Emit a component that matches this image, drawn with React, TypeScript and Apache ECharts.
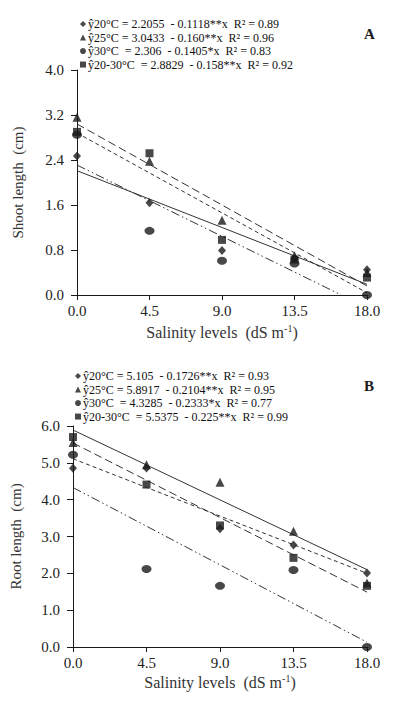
import React, { useEffect, useRef } from "react";
import * as echarts from "echarts";

// salinity levels (dS m-1)
const salinity = [0, 4.5, 9, 13.5, 18];

// A: shoot length (cm)
const shoot20 = [2.47, 1.64, 0.79, 0.65, 0.45];
const shoot25 = [3.16, 2.38, 1.33, 0.7, 0.4];
const shoot30 = [2.85, 1.14, 0.61, 0.56, 0];
const shoot2030 = [2.9, 2.52, 0.98, 0.63, 0.31];

// A: fitted lines, end points
const shootFit20 = [[0, 2.21], [18, 0.19]];
const shootFit25 = [[0, 3.04], [18, 0.16]];
const shootFit30 = [[0, 2.31], [16.4, 0]];
const shootFit2030 = [[0, 2.88], [18, 0.04]];

// B: root length (cm)
const root20 = [4.85, 4.86, 3.21, 2.77, 2.01];
const root25 = [5.55, 4.95, 4.47, 3.14, 1.74];
const root30 = [5.22, 2.12, 1.66, 2.09, 0];
const root2030 = [5.7, 4.41, 3.3, 2.42, 1.66];

// B: fitted lines, end points
const rootFit20 = [[0, 5.11], [18, 2.0]];
const rootFit25 = [[0, 5.89], [18, 2.1]];
const rootFit30 = [[0, 4.33], [18, 0.13]];
const rootFit2030 = [[0, 5.54], [18, 1.49]];

const shootEq = [
  "ŷ20°C = 2.2055  - 0.1118**x  R² = 0.89",
  "ŷ25°C = 3.0433  - 0.160**x  R² = 0.96",
  "ŷ30°C  = 2.306  - 0.1405*x  R² = 0.83",
  "ŷ20-30°C  = 2.8829  - 0.158**x  R² = 0.92",
];
const rootEq = [
  "ŷ20°C = 5.105  - 0.1726**x  R² = 0.93",
  "ŷ25°C = 5.8917  - 0.2104**x  R² = 0.95",
  "ŷ30°C  = 4.3285  - 0.2333*x  R² = 0.77",
  "ŷ20-30°C  = 5.5375  - 0.225**x  R² = 0.99",
];

const serif = "'Liberation Serif', 'Times New Roman', serif";
const ink = "#1a1a1a";
const LONG = [8, 4];
const SHORT = [4, 3];
const DASHDOT = [9, 3, 1.5, 3, 1.5, 3];

const pts = (ys: number[]) => salinity.map((x, i) => [x, ys[i]]);

const App = () => {
  const chartRef = useRef<HTMLDivElement>(null);

  useEffect(() => {
    if (!chartRef.current) return;
    document.body.style.margin = "0";
    const chart = echarts.init(chartRef.current, null, { renderer: "svg" });

    const markers = ["diamond", "triangle", "circle", "rect"];
    const sizes: any[] = [[8, 9], 9, [10, 8], 8];
    const namesA = ["A20", "A25", "A30", "A2030"];
    const namesB = ["B20", "B25", "B30", "B2030"];
    const eqMap: Record<string, string> = {};
    namesA.forEach((n, i) => (eqMap[n] = shootEq[i]));
    namesB.forEach((n, i) => (eqMap[n] = rootEq[i]));

    const xAxis = (gridIndex: number, gap: number) => ({
      type: "value",
      gridIndex,
      min: 0,
      max: 18,
      interval: 4.5,
      name: "Salinity levels  (dS m{sup|-1})",
      nameLocation: "middle",
      nameGap: gap,
      nameTextStyle: {
        fontFamily: serif,
        fontSize: 16,
        color: "#333",
        rich: { sup: { fontFamily: serif, fontSize: 10, color: "#333", verticalAlign: "top", padding: [0, 0, 8, 0] } },
      },
      axisLine: { lineStyle: { color: ink, width: 1 } },
      axisTick: { lineStyle: { color: ink }, length: 5 },
      axisLabel: { fontFamily: serif, fontSize: 15, color: "#222", margin: 8, formatter: (v: number) => v.toFixed(1) },
      splitLine: { show: false },
    });
    const yAxis = (gridIndex: number, max: number, interval: number, name: string, gap: number) => ({
      type: "value",
      gridIndex,
      min: 0,
      max,
      interval,
      name,
      nameLocation: "middle",
      nameGap: gap,
      nameTextStyle: { fontFamily: serif, fontSize: 15, color: "#333" },
      axisLine: { show: true, lineStyle: { color: ink, width: 1 } },
      axisTick: { show: true, lineStyle: { color: ink }, length: 6 },
      axisLabel: { fontFamily: serif, fontSize: 15, color: "#222", margin: 13, formatter: (v: number) => v.toFixed(1) },
      splitLine: { show: false },
    });

    const scatter = (name: string, data: number[], i: number, idx: number) => ({
      name,
      type: "scatter",
      xAxisIndex: idx,
      yAxisIndex: idx,
      symbol: markers[i],
      symbolSize: sizes[i],
      itemStyle: { color: ink },
      data: pts(data),
      z: 3,
    });
    const fit = (data: number[][], type: any, idx: number) => ({
      type: "line",
      xAxisIndex: idx,
      yAxisIndex: idx,
      symbol: "none",
      silent: true,
      lineStyle: { color: "#333", width: 1, type },
      data,
      z: 2,
    });

    const legend = (names: string[], left: number, top: number) => ({
      orient: "vertical",
      left,
      top,
      padding: 0,
      itemGap: 0,
      itemWidth: 6,
      itemHeight: 6,
      selectedMode: false,
      data: names.map((n, i) => ({ name: n, icon: markers[i] })),
      formatter: (n: string) => eqMap[n],
      textStyle: { fontFamily: serif, fontSize: 12, color: "#111", padding: [0, 0, 0, -3], lineHeight: 13.5 },
    });

    const option: any = {
      animation: false,
      backgroundColor: "#fff",
      grid: [
        { left: 77, top: 70, width: 290, height: 225 },
        { left: 71, top: 426, width: 296, height: 221 },
      ],
      xAxis: [xAxis(0, 28), xAxis(1, 26)],
      yAxis: [
        yAxis(0, 4, 0.8, "Shoot length  (cm)", 52),
        yAxis(1, 6, 1, "Root length  (cm)", 50),
      ],
      legend: [legend(namesA, 80, 17.3), legend(namesB, 75, 369.3)],
      graphic: [
        { type: "text", left: 364, top: 26, style: { text: "A", font: `bold 15px ${serif}`, fill: ink } },
        { type: "text", left: 364, top: 378, style: { text: "B", font: `bold 15px ${serif}`, fill: ink } },
      ],
      series: [
        fit(shootFit20, "solid", 0),
        fit(shootFit25, LONG, 0),
        fit(shootFit30, DASHDOT, 0),
        fit(shootFit2030, SHORT, 0),
        scatter(namesA[0], shoot20, 0, 0),
        scatter(namesA[1], shoot25, 1, 0),
        scatter(namesA[2], shoot30, 2, 0),
        scatter(namesA[3], shoot2030, 3, 0),
        fit(rootFit20, SHORT, 1),
        fit(rootFit25, "solid", 1),
        fit(rootFit30, DASHDOT, 1),
        fit(rootFit2030, LONG, 1),
        scatter(namesB[0], root20, 0, 1),
        scatter(namesB[1], root25, 1, 1),
        scatter(namesB[2], root30, 2, 1),
        scatter(namesB[3], root2030, 3, 1),
      ],
    };

    chart.setOption(option);
    return () => chart.dispose();
  }, []);

  return <div ref={chartRef} style={{ width: "405px", height: "706px" }} />;
};

export default App;
